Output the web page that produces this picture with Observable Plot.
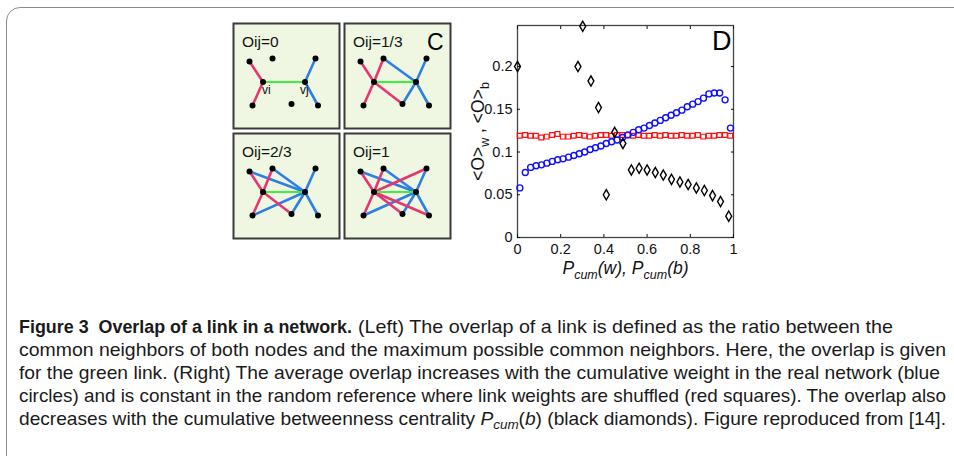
<!DOCTYPE html>
<html><head><meta charset="utf-8">
<script src="https://cdn.jsdelivr.net/npm/d3@7"></script>
<script src="https://cdn.jsdelivr.net/npm/@observablehq/plot@0.6"></script>
<style>
html,body{margin:0;padding:0;background:#fff}
body{width:954px;height:456px;overflow:hidden;position:relative;font-family:"Liberation Sans",Arial,sans-serif}
#border{position:absolute;left:6px;top:7px;width:1000px;height:500px;border:1.5px solid #8c8c8c;border-radius:14px;box-sizing:border-box}
.abs{position:absolute}
</style></head><body>
<div id="border"></div>
<div id="n0" class="abs" style="left:232px;top:22px"></div>
<div id="n1" class="abs" style="left:343px;top:22px"></div>
<div id="n2" class="abs" style="left:232px;top:132px"></div>
<div id="n3" class="abs" style="left:343px;top:132px"></div>
<div id="chart" class="abs" style="left:460px;top:15px"></div>
<svg id="caption" class="abs" style="left:0;top:300px" width="954" height="156"></svg>
<script>
// ---------- Panel D data ----------
const blueX = [0.011,0.036,0.061,0.086,0.111,0.136,0.161,0.186,0.211,0.236,0.261,0.286,0.311,0.336,0.361,0.386,0.411,0.436,0.461,0.486,0.511,0.536,0.561,0.586,0.611,0.636,0.661,0.686,0.711,0.736,0.761,0.786,0.811,0.836,0.861,0.886,0.911,0.936,0.961,0.986];
const blueY = [0.058,0.076,0.082,0.084,0.085,0.087,0.089,0.091,0.092,0.094,0.096,0.098,0.100,0.103,0.105,0.107,0.110,0.112,0.114,0.117,0.120,0.123,0.126,0.128,0.131,0.134,0.137,0.140,0.143,0.146,0.149,0.153,0.156,0.159,0.163,0.168,0.169,0.169,0.161,0.128];
const redX = [0.010,0.035,0.060,0.085,0.110,0.135,0.160,0.185,0.210,0.235,0.260,0.285,0.310,0.335,0.360,0.385,0.410,0.435,0.460,0.485,0.510,0.535,0.560,0.585,0.610,0.635,0.660,0.685,0.710,0.735,0.760,0.785,0.810,0.835,0.860,0.885,0.910,0.935,0.960,0.985];
const redY = [0.119,0.120,0.119,0.119,0.117,0.118,0.120,0.121,0.118,0.118,0.119,0.120,0.119,0.118,0.119,0.120,0.120,0.119,0.120,0.120,0.120,0.119,0.120,0.119,0.119,0.120,0.119,0.120,0.119,0.119,0.120,0.119,0.119,0.120,0.118,0.119,0.119,0.120,0.120,0.119];
const diamondX = [0.000,0.280,0.302,0.340,0.375,0.411,0.450,0.488,0.527,0.563,0.600,0.638,0.675,0.713,0.752,0.790,0.828,0.865,0.903,0.940,0.978];
const diamondY = [0.200,0.200,0.247,0.183,0.152,0.050,0.123,0.110,0.079,0.081,0.079,0.076,0.073,0.068,0.065,0.062,0.058,0.055,0.049,0.042,0.025];
const xTicks = [0,0.2,0.4,0.6,0.8,1];
const yTicks = [0,0.05,0.1,0.15,0.2];
const panelLetterD = "D";

// ---------- Panel C data ----------
const nodeIds = ["A","B","vi","vj","C","D","E","F"];
const nodeX = [16,39,29.5,71.5,82,19,58,84.5];
const nodeY = [38,35,58.5,58.5,35,82,80.5,82];
const panelTitles = ["Oij=0","Oij=1/3","Oij=2/3","Oij=1"];
const pinkNeighbors = [["A","D"],["A","B","D","E"],["A","B","D","E"],["A","B","C","D","E","F"]];
const blueNeighbors = [["C","F"],["B","C","E","F"],["A","B","C","D","E","F"],["A","B","C","D","E","F"]];
const nodeLabels = ["vi","vj"];
const panelLetterC = "C";

// ---------- Caption ----------
const captionBold = "Figure 3\u00a0\u00a0Overlap of a link in a network.";
const captionLines = [
  "(Left) The overlap of a link is defined as the ratio between the",
  "common neighbors of both nodes and the maximum possible common neighbors. Here, the overlap is given",
  "for the green link. (Right) The average overlap increases with the cumulative weight in the real network (blue",
  "circles) and is constant in the random reference where link weights are shuffled (red squares). The overlap also",
  "decreases with the cumulative betweenness centrality\u00a0"
];
const captionTail = "\u00a0(black diamonds). Figure reproduced from [14].";

// ===== build network panels =====
const pos = Object.fromEntries(nodeIds.map((id, i) => [id, {x: nodeX[i], y: nodeY[i]}]));
const nodes = nodeIds.map((id, i) => ({id, x: nodeX[i], y: nodeY[i]}));
function netPlot(k) {
  const pink = pinkNeighbors[k].map(n => ({x1: pos.vi.x, y1: pos.vi.y, x2: pos[n].x, y2: pos[n].y}));
  const blue = blueNeighbors[k].map(n => ({x1: pos.vj.x, y1: pos.vj.y, x2: pos[n].x, y2: pos[n].y}));
  const green = [{x1: pos.vi.x, y1: pos.vi.y, x2: pos.vj.x, y2: pos.vj.y}];
  const marks = [
    Plot.frame({fill: "#eff7e2", stroke: "#3a3a3a", strokeWidth: 2}),
    Plot.link(blue, {x1: "x1", y1: "y1", x2: "x2", y2: "y2", stroke: "#2d7fe2", strokeWidth: 2.6}),
    Plot.link(pink, {x1: "x1", y1: "y1", x2: "x2", y2: "y2", stroke: "#e6366f", strokeWidth: 2.6}),
    Plot.link(green, {x1: "x1", y1: "y1", x2: "x2", y2: "y2", stroke: "#3cf03c", strokeWidth: 2}),
    Plot.dot(nodes, {x: "x", y: "y", r: 3, fill: "#000"}),
    Plot.text([panelTitles[k]], {x: 8.5, y: 23.5, text: d => d, textAnchor: "start", lineAnchor: "bottom", fontSize: 15.5, fill: "#111", ariaLabel: "panel-title"})
  ];
  if (k === 0) {
    marks.push(Plot.text(nodeLabels, {x: d => d === "vi" ? pos.vi.x - 1 : pos.vj.x - 5, y: 70, text: d => d, textAnchor: "start", lineAnchor: "bottom", fontSize: 12, fill: "#111", ariaLabel: "node-label"}));
  }
  if (k === 1) {
    marks.push(Plot.text([panelLetterC], {x: 99, y: 26, text: d => d, textAnchor: "end", lineAnchor: "bottom", fontSize: 23, fill: "#000"}));
  }
  const svg = Plot.plot({
    width: 108, height: 107, margin: 1,
    x: {domain: [0, 106], axis: null},
    y: {domain: [0, 105], axis: null, reverse: true},
    style: {background: "transparent", fontFamily: "Liberation Sans, Arial, sans-serif", overflow: "visible"},
    marks
  });
  svg.querySelectorAll('[aria-label="panel-title"] text').forEach(t => {
    const txt = t.textContent; const rest = txt.slice(3);
    t.innerHTML = `<tspan font-style="italic">O</tspan><tspan font-style="italic" font-size="10.5">ij</tspan><tspan>${rest}</tspan>`;
  });
  svg.querySelectorAll('[aria-label="node-label"] text').forEach(t => {
    const txt = t.textContent;
    t.innerHTML = `<tspan font-style="italic">${txt[0]}</tspan><tspan font-style="italic" font-size="8" dy="3">${txt[1]}</tspan>`;
  });
  return svg;
}
for (let k = 0; k < 4; k++) document.getElementById("n" + k).append(netPlot(k));

// ===== build panel D =====
const blue = blueX.map((x, i) => ({x, y: blueY[i]}));
const red = redX.map((x, i) => ({x, y: redY[i]}));
const dia = diamondX.map((x, i) => ({x, y: diamondY[i]}));
const chart = Plot.plot({
  width: 290, height: 285, marginLeft: 57, marginRight: 17, marginTop: 10, marginBottom: 63,
  style: {fontFamily: "Liberation Sans, Arial, sans-serif", fontSize: "14.5px", color: "#111", background: "transparent", overflow: "visible"},
  x: {domain: [0, 1]},
  y: {domain: [0, 0.248]},
  marks: [
    Plot.frame({stroke: "#444", strokeWidth: 1.3}),
    Plot.axisX({ticks: xTicks, tickSize: 0, tickPadding: 6, tickFormat: d => String(d), label: "Pcum(w), Pcum(b)", labelAnchor: "center", labelOffset: 36, labelArrow: "none", fontSize: 14.5}),
    Plot.axisX({ticks: xTicks, tickSize: -3, tickFormat: () => "", label: null}),
    Plot.axisX({anchor: "top", ticks: xTicks, tickSize: -3, tickFormat: () => "", label: null}),
    Plot.axisY({ticks: yTicks, tickSize: 0, tickPadding: 5, tickFormat: d => String(d), label: "<O>w , <O>b", labelAnchor: "center", labelOffset: 46, labelArrow: "none", fontSize: 14.5}),
    Plot.axisY({ticks: yTicks, tickSize: -3, tickFormat: () => "", label: null}),
    Plot.axisY({anchor: "right", ticks: yTicks, tickSize: -3, tickFormat: () => "", label: null}),
    Plot.dot(red, {x: "x", y: "y", symbol: "square", r: 2.7, stroke: "#ff1010", strokeWidth: 1.2}),
    Plot.dot(blue, {x: "x", y: "y", symbol: "circle", r: 3.0, stroke: "#1010ff", strokeWidth: 1.4}),
    Plot.dot(dia, {x: "x", y: "y", symbol: "diamond", r: 3.1, stroke: "#000", strokeWidth: 1.4}),
    Plot.text([panelLetterD], {frameAnchor: "top-right", dx: -2, dy: 5, text: d => d, textAnchor: "end", lineAnchor: "top", fontSize: 27, fill: "#000"})
  ]
});
const xl = chart.querySelector('[aria-label="x-axis label"] text');
if (xl) xl.innerHTML = '<tspan font-style="italic">P</tspan><tspan font-style="italic" font-size="12.5" dy="5">cum</tspan><tspan font-style="italic" dy="-5">(w), P</tspan><tspan font-style="italic" font-size="12.5" dy="5">cum</tspan><tspan font-style="italic" dy="-5">(b)</tspan>';
const yl = chart.querySelector('[aria-label="y-axis label"] text');
if (yl) yl.innerHTML = '<tspan>&lt;O&gt;</tspan><tspan font-size="12.5" dy="5">w</tspan><tspan dy="-5"> , &lt;O&gt;</tspan><tspan font-size="12.5" dy="5">b</tspan>';
[xl, yl].forEach(t => { if (t) { t.setAttribute("font-size", "17.5"); t.setAttribute("fill", "#111"); } });
document.getElementById("chart").append(chart);

// ===== caption =====
const cap = d3.select("#caption").attr("font-family", "'Liberation Sans Narrow','Liberation Sans',Arial,sans-serif").attr("font-size", 18.5).attr("fill", "#1a1a1a");
const base0 = 33, lh = 23, x0 = 19;
cap.append("text").attr("x", x0).attr("y", base0).attr("font-weight", "bold").attr("textLength", 333).attr("lengthAdjust", "spacingAndGlyphs").text(captionBold);
cap.append("text").attr("x", 358).attr("y", base0).attr("textLength", 535).attr("lengthAdjust", "spacingAndGlyphs").text(captionLines[0]);
const ends = [946, 940, 946];
for (let i = 1; i <= 3; i++) {
  cap.append("text").attr("x", x0).attr("y", base0 + i * lh).attr("textLength", ends[i - 1] - x0).attr("lengthAdjust", "spacingAndGlyphs").text(captionLines[i]);
}
const l5 = cap.append("text").attr("x", x0).attr("y", base0 + 4 * lh).attr("textLength", 946 - x0).attr("lengthAdjust", "spacingAndGlyphs");
l5.append("tspan").text(captionLines[4]);
l5.append("tspan").attr("font-style", "italic").text("P");
l5.append("tspan").attr("font-style", "italic").attr("font-size", 13).attr("dy", 4).text("cum");
l5.append("tspan").attr("dy", -4).text("(");
l5.append("tspan").attr("font-style", "italic").text("b");
l5.append("tspan").text(")" + captionTail);
</script>
</body></html>
